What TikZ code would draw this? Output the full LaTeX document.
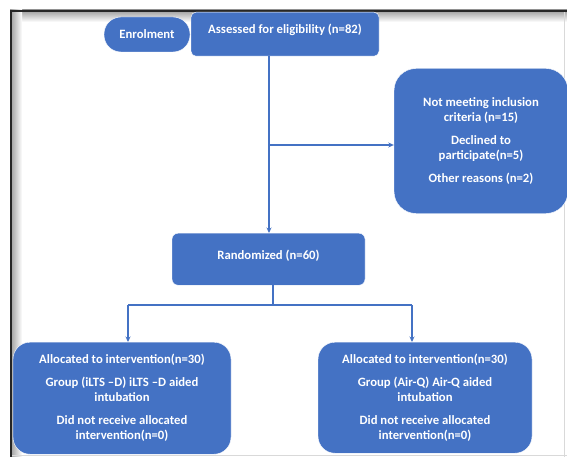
\documentclass[tikz,border=0pt]{standalone}
\usepackage{fontspec}
\setmainfont{Carlito}
\usetikzlibrary{arrows.meta}
\definecolor{boxblue}{HTML}{4472C4}
\begin{document}
\begin{tikzpicture}[x=1pt,y=-1pt]
        \tikzstyle{every node}=[font=\fontsize{12.7}{15}\selectfont\bfseries, text=white];
        \tikzstyle{box}=[fill=boxblue, draw=white, line width=0.4pt, align=center, inner sep=0pt];
        \tikzstyle{line}=[draw=boxblue, line width=1.1pt];
        \tikzstyle{arr}=[line, -{Stealth[length=5.5pt,width=5pt]}];
        \useasboundingbox (0,0) rectangle (567,457);
        % frame with inner shadow
        \shade[top color=black!40, bottom color=white] (10,10) rectangle (567,22);
        \shade[left color=black!40, right color=white] (10,10) rectangle (22,457);
        \draw[black!85, line width=1.6pt] (10,11) -- (567,11);
        \draw[black!85, line width=1.6pt] (11,10) -- (11,457);
        \draw[black!15] (564.5,12) -- (564.5,457);
        \draw[black!15] (12,455.5) -- (567,455.5);
        % boxes
        \node[box, rounded corners=17pt, minimum width=86pt, minimum height=35pt] (enrol) at (147,34.5) {Enrolment};
        \node[box, rounded corners=5pt, anchor=north, minimum width=188pt, text height=21pt, text depth=23pt] (assess) at (285,12) {Assessed for eligibility (n=82)};
        \node[box, rounded corners=22pt, minimum width=174pt, minimum height=145pt] (excl) at (481,141) {Not meeting inclusion\\criteria (n=15)\\[8pt]Declined to\\participate(n=5)\\[8pt]Other reasons (n=2)};
        \node[box, rounded corners=6pt, anchor=north, minimum width=193pt, text height=26pt, text depth=26pt] (rand) at (268.5,233) {Randomized (n=60)};
        \node[box, rounded corners=17pt, anchor=north, minimum width=218pt, minimum height=112pt] (grpa) at (122,342) {Allocated to intervention(n=30)\\[8pt]Group (iLTS --D) iLTS --D aided\\intubation\\[8pt]Did not receive allocated\\intervention(n=0)};
        \node[box, rounded corners=17pt, anchor=north, minimum width=214pt, minimum height=111pt] (grpb) at (425,342) {Allocated to intervention(n=30)\\[8pt]Group (Air-Q) Air-Q aided\\intubation\\[8pt]Did not receive allocated\\intervention(n=0)};
        % connectors
        \coordinate (cut) at (269,145);
        \coordinate (fork) at (273,305);
        \coordinate (forka) at (128,305);
        \coordinate (forkb) at (412,305);
        \draw[arr] (assess.south -| cut) -- (rand.north -| cut);
        \draw[arr] (cut) -- (excl.west |- cut);
        \draw[line] (rand.south -| fork) -- (fork);
        \draw[line] (forka) -- (forkb);
        \draw[arr] (forka) -- (grpa.north -| forka);
        \draw[arr] (forkb) -- (grpb.north -| forkb);
\end{tikzpicture}
\end{document}
